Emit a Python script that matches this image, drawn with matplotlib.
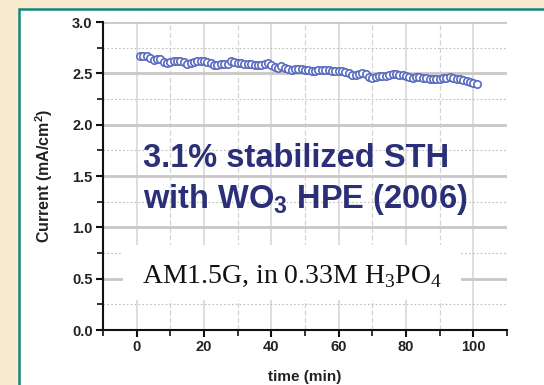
import matplotlib
matplotlib.use("Agg")
import matplotlib.pyplot as plt
from matplotlib.patches import Rectangle
from matplotlib.ticker import MultipleLocator, FormatStrFormatter

plt.rcParams['mathtext.fontset'] = 'custom'
plt.rcParams['mathtext.rm'] = 'Liberation Serif'
plt.rcParams['mathtext.bf'] = 'Liberation Sans:bold'

time_min = list(range(1, 102))
current = [2.67, 2.67, 2.665, 2.645, 2.63, 2.635, 2.64, 2.61, 2.60, 2.615,
           2.62, 2.625, 2.625, 2.615, 2.595, 2.60, 2.61, 2.62, 2.625, 2.62,
           2.61, 2.60, 2.585, 2.58, 2.595, 2.59, 2.59, 2.62, 2.61, 2.60,
           2.60, 2.595, 2.59, 2.59, 2.585, 2.585, 2.585, 2.595, 2.60, 2.58,
           2.56, 2.55, 2.575, 2.55, 2.54, 2.535, 2.54, 2.545, 2.54, 2.535,
           2.53, 2.525, 2.52, 2.53, 2.53, 2.535, 2.535, 2.525, 2.52, 2.525,
           2.525, 2.515, 2.50, 2.485, 2.48, 2.49, 2.50, 2.49, 2.465, 2.45,
           2.46, 2.47, 2.47, 2.475, 2.485, 2.495, 2.49, 2.485, 2.48, 2.47,
           2.46, 2.45, 2.46, 2.46, 2.455, 2.45, 2.445, 2.44, 2.445, 2.445,
           2.45, 2.455, 2.465, 2.455, 2.445, 2.44, 2.435, 2.43, 2.42, 2.405,
           2.40]

x_ticks = [0, 20, 40, 60, 80, 100]
y_ticks = [0.0, 0.5, 1.0, 1.5, 2.0, 2.5, 3.0]

fig = plt.figure(figsize=(5.44, 3.85), dpi=100)
fig.patch.set_facecolor('#f8ebcf')

bg = fig.add_axes([0, 0, 1, 1], zorder=-5)
bg.set_axis_off()
bg.set_xlim(0, 544)
bg.set_ylim(385, 0)
bg.add_patch(Rectangle((19, 9), 540, 390, facecolor='white',
                       edgecolor='#13857f', linewidth=1.8))

ax = fig.add_axes([103/544, 55/385, 404/544, 308/385], zorder=1)
ax.set_facecolor('none')
ax.set_xlim(-10, 110)
ax.set_ylim(0, 3.0)

ax.set_xticks(x_ticks)
ax.set_yticks(y_ticks)
ax.xaxis.set_minor_locator(MultipleLocator(10))
ax.yaxis.set_minor_locator(MultipleLocator(0.25))

for s in ['top', 'right']:
    ax.spines[s].set_visible(False)
for s in ['left', 'bottom']:
    ax.spines[s].set_linewidth(1.5)
    ax.spines[s].set_color('#111111')

ax.tick_params(axis='both', which='major', direction='out', length=5, width=1.5,
               colors='#111111', labelsize=10.5, pad=2.5)
ax.tick_params(axis='both', which='minor', direction='out', length=4, width=1.2,
               colors='#111111')
ax.yaxis.set_major_formatter(FormatStrFormatter('%.1f'))
for lab in ax.get_xticklabels() + ax.get_yticklabels():
    lab.set_fontweight('bold')
    lab.set_family('Liberation Sans')
    lab.set_color('#222222')

ax.grid(axis='y', which='major', color='#c8c8c8', linewidth=2.0, zorder=0)
ax.grid(axis='y', which='minor', color='#bdbdbd', linewidth=0.8, linestyle=(0, (1.5, 2)), zorder=0)
ax.grid(axis='x', which='major', color='#d8d8d8', linewidth=1.2, zorder=0)
ax.grid(axis='x', which='minor', color='#d4d4d4', linewidth=0.9, linestyle=(0, (4, 2)), zorder=0)
ax.set_axisbelow(True)

ax.plot(time_min, current, linestyle='none', marker='o', markersize=5.3,
        markerfacecolor='white', markeredgecolor='#5a6cc0', markeredgewidth=1.2,
        zorder=3)

ax.set_xlabel('time (min)', fontsize=11, fontweight='bold', family='Liberation Sans',
              color='#222222', labelpad=11)
ax.set_ylabel('Current (mA/cm$^\\mathbf{2}$)', fontsize=11.5, fontweight='bold',
              family='Liberation Sans', color='#222222', labelpad=12)

ax.text(2.0, 1.586, '3.1% stabilized STH', ha='left', va='baseline',
        fontsize=23.5, fontweight='bold', family='Liberation Sans', color='#2a2f78',
        zorder=4)
ax.text(2.0, 1.187, 'with WO$_\\mathbf{3}$ HPE (2006)', ha='left', va='baseline',
        fontsize=23.5, fontweight='bold', family='Liberation Sans', color='#2a2f78',
        zorder=4)

ax.add_patch(Rectangle((-4, 0.29), 100.3, 0.54, facecolor='white', edgecolor='none', zorder=2))
ax.text(1.7, 0.457, 'AM1.5G, in 0.33M H$_3$PO$_4$', ha='left', va='baseline',
        fontsize=20, family='Liberation Serif', color='#111111', zorder=4)

fig.savefig('out.png', dpi=100, facecolor=fig.get_facecolor())
